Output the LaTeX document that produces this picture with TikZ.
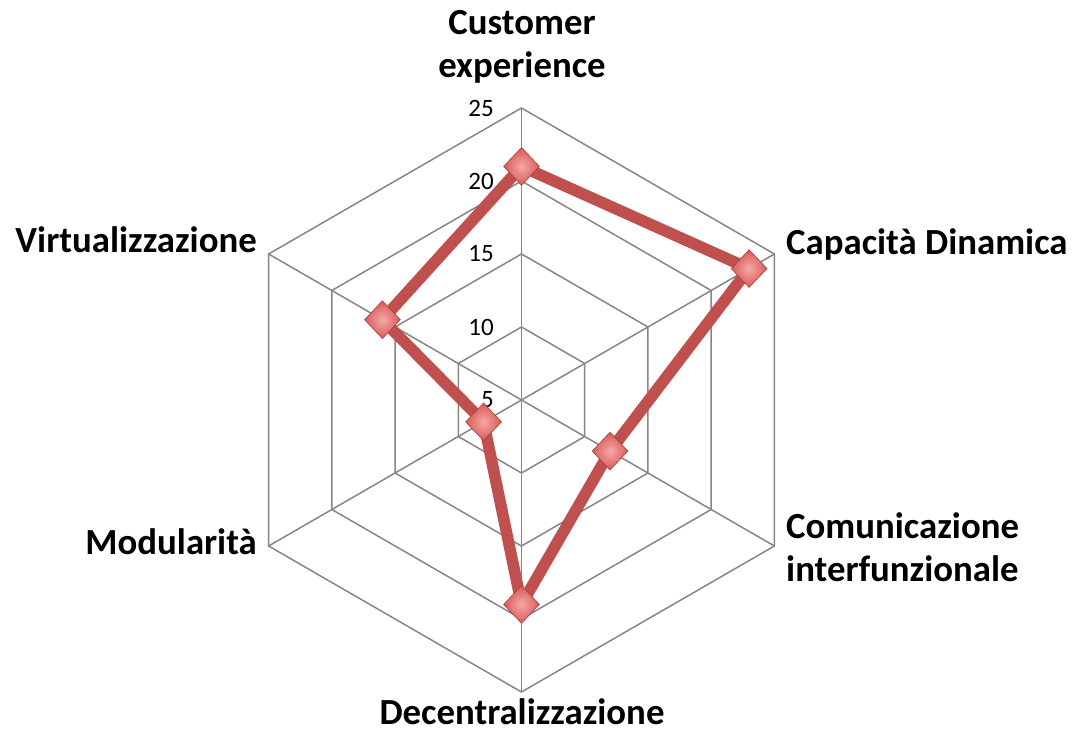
\documentclass[tikz,border=0pt]{standalone}
\usepackage{fontspec}
\setmainfont{Carlito}
\usetikzlibrary{shapes.geometric}
\definecolor{gridc}{HTML}{868686}
\definecolor{datac}{HTML}{C0504D}
\definecolor{mkin}{HTML}{F6A8A6}
\definecolor{mkout}{HTML}{D65A57}
\definecolor{mkedge}{HTML}{A9403D}
\begin{document}
\begin{tikzpicture}[x=1pt,y=1pt,
  gridline/.style={draw=gridc,line width=1.5pt},
  dataline/.style={draw=datac,line width=11.5pt,line join=round},
  marker/.style={diamond,inner sep=0pt,minimum width=36pt,minimum height=38pt,
    shading=radial,inner color=mkin,outer color=mkout,draw=mkedge,line width=0.6pt},
  axlabel/.style={font=\fontsize{36.8}{43.5}\selectfont\bfseries,inner sep=0pt},
  ticklabel/.style={font=\fontsize{25}{30}\selectfont,inner sep=0pt,anchor=east}]
\useasboundingbox (0,0) rectangle (1074,742);
\coordinate (C) at (521.5,342);
% spokes
\foreach \a [count=\i] in {90,30,-30,-90,-150,150}
  \coordinate (v\i) at ([shift={(\a:292)}]C);
\foreach \i in {1,...,6} \draw[gridline] (C) -- (v\i);
% rings
\foreach \r in {73,146,219,292}
  \draw[gridline,line join=miter] ([shift={(90:\r)}]C) -- ([shift={(30:\r)}]C) -- ([shift={(-30:\r)}]C)
    -- ([shift={(-90:\r)}]C) -- ([shift={(-150:\r)}]C) -- ([shift={(150:\r)}]C) -- cycle;
% tick labels
\node[ticklabel] (t5) at (494,342) {5};
\node[ticklabel] (t10) at (494,415) {10};
\node[ticklabel] (t15) at (494,488) {15};
\node[ticklabel] (t20) at (494,561) {20};
\node[ticklabel] (t25) at (494,634) {25};
% data markers (values 21, 23, 12, 19, 8, 16)
\coordinate (p1) at ([shift={(90:233.6)}]C);
\coordinate (p2) at ([shift={(30:262.8)}]C);
\coordinate (p3) at ([shift={(-30:102.2)}]C);
\coordinate (p4) at ([shift={(-90:204.4)}]C);
\coordinate (p5) at ([shift={(-150:43.8)}]C);
\coordinate (p6) at ([shift={(150:160.6)}]C);
\draw[dataline] (p1) -- (p2) -- (p3) -- (p4) -- (p5) -- (p6) -- cycle;
\foreach \i in {1,...,6} \node[marker] (m\i) at (p\i) {};
% axis labels
\node[axlabel,align=center,anchor=base] (l1) at (522,664) {Customer\\experience};
\node[axlabel,anchor=base west] (l2) at (786,487) {Capacità Dinamica};
\node[axlabel,align=left,anchor=base west] (l3) at (786,160) {Comunicazione\\interfunzionale};
\node[axlabel,anchor=base] (l4) at (522,17) {Decentralizzazione};
\node[axlabel,anchor=base east] (l5) at (257,187) {Modularità};
\node[axlabel,anchor=base east] (l6) at (257,489) {Virtualizzazione};
\end{tikzpicture}
\end{document}
